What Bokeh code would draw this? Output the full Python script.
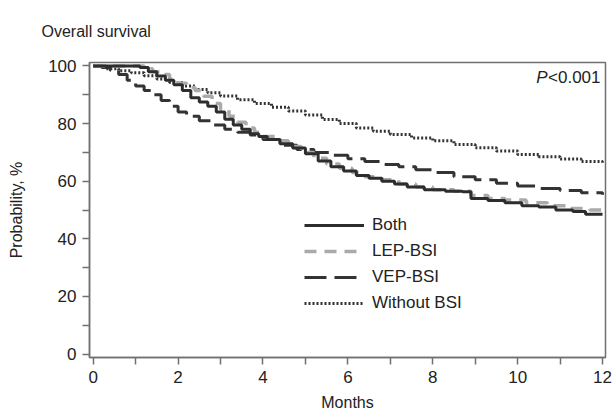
from bokeh.plotting import figure
from bokeh.models import Range1d, FixedTicker, Legend, LegendItem, Label
from bokeh.embed import file_html
from bokeh.resources import INLINE

# ---- data ----
both_t = [0, 1.1, 1.3, 1.5, 1.7, 1.9, 2.1, 2.3, 2.5, 2.7, 2.9, 3.1, 3.3, 3.5, 3.7, 3.9, 4.1, 4.4, 4.7,
          5.0, 5.3, 5.6, 5.9, 6.2, 6.5, 6.8, 7.1, 7.4, 7.8, 8.3, 8.7, 8.9, 9.3, 9.7, 10.1, 10.5, 10.9,
          11.3, 11.6, 12.0]
both_s = [100, 99.5, 98, 96.5, 95, 93.5, 91.5, 89, 87.5, 86, 84, 81.5, 79.5, 78, 76.5, 75.5, 74.5, 73,
          71.5, 69.5, 67, 65, 63.5, 62, 61, 60, 59, 58, 57, 56.5, 56.3, 54, 53.3, 52.5, 51.5, 51, 50,
          49.5, 48.5, 48.5]

lep_t = [0, 1.2, 1.4, 1.6, 1.8, 2.0, 2.2, 2.4, 2.6, 2.8, 3.0, 3.2, 3.4, 3.6, 3.8, 4.0, 4.3, 4.6, 4.9,
         5.2, 5.5, 5.8, 6.1, 6.4, 6.8, 7.2, 7.6, 8.0, 8.5, 8.9, 9.3, 9.7, 10.2, 10.7, 11.2, 11.7, 12.0]
lep_s = [100, 99, 98, 97, 95.5, 94, 92.5, 91.5, 89.5, 87, 85, 82.5, 80.5, 78.5, 77, 75.5, 74, 72, 70,
         68, 66, 64.5, 63, 61.5, 60.5, 59, 58, 57, 56.5, 55, 54, 53.5, 52.5, 51.5, 50.5, 50, 49.5]

vep_t = [0, 0.2, 0.4, 0.6, 0.8, 1.0, 1.2, 1.4, 1.6, 1.8, 2.0, 2.2, 2.5, 2.8, 3.1, 3.4, 3.7, 4.0, 4.4,
         4.8, 5.2, 5.6, 6.0, 6.4, 6.8, 7.2, 7.6, 8.0, 8.5, 9.0, 9.5, 10.0, 10.5, 11.0, 11.5, 12.0]
vep_s = [100, 99.5, 98.5, 97, 95, 93, 91.5, 90, 88, 86, 84, 82.5, 81, 79.5, 78, 77, 76, 74.5, 72.5,
         71, 70, 69, 67.8, 66.8, 65.8, 65, 64, 63, 61.5, 60.5, 59.3, 58.3, 57.5, 56.8, 56, 55.3]

wo_t = [0, 0.3, 0.6, 0.9, 1.2, 1.5, 1.8, 2.1, 2.4, 2.7, 3.0, 3.4, 3.8, 4.2, 4.6, 5.0, 5.4, 5.8, 6.2,
        6.6, 7.0, 7.5, 8.0, 8.5, 9.0, 9.5, 10.0, 10.5, 11.0, 11.5, 12.0]
wo_s = [100, 99, 98.3, 97.6, 96.6, 95.5, 94.3, 93, 91.8, 90.7, 89.6, 88.3, 87, 85.7, 84.4, 83, 81.4,
        80, 78.5, 77.3, 76.2, 75, 74, 72.7, 71.6, 70.5, 69.3, 68.5, 67.7, 66.8, 66]

x_ticks = [0, 2, 4, 6, 8, 10, 12]
x_minor = [1, 3, 5, 7, 9, 11]
y_ticks = [0, 20, 40, 60, 80, 100]
y_minor = [10, 30, 50, 70, 90]

FONT = "Liberation Sans"
TXT = "#222222"
AX = "#707070"
FS = "17px"

p = figure(width=614, height=415, output_backend="svg", toolbar_location=None,
           x_range=Range1d(-0.087, 12.07), y_range=Range1d(-1.2, 101.2),
           min_border_left=89, min_border_right=9, min_border_top=62, min_border_bottom=58)

p.title.text = "Overall survival"
p.title.align = "left"
p.title.vertical_align = "top"
p.title.offset = -48
p.title.standoff = 42
p.title.text_font = FONT
p.title.text_font_size = "16px"
p.title.text_font_style = "normal"
p.title.text_color = TXT

p.xgrid.visible = False
p.ygrid.visible = False
p.outline_line_color = AX
p.outline_line_width = 1.5
p.background_fill_color = "white"
p.border_fill_color = "white"

p.xaxis.ticker = FixedTicker(ticks=x_ticks, minor_ticks=x_minor)
p.yaxis.ticker = FixedTicker(ticks=y_ticks, minor_ticks=y_minor)
for ax in (p.xaxis[0], p.yaxis[0]):
    ax.axis_line_color = AX
    ax.axis_line_width = 1.5
    ax.major_tick_line_color = AX
    ax.minor_tick_line_color = AX
    ax.major_tick_line_width = 1.5
    ax.minor_tick_line_width = 1.5
    ax.major_tick_in = 0
    ax.minor_tick_in = 0
    ax.major_tick_out = 7
    ax.minor_tick_out = 7
    ax.major_label_text_font = FONT
    ax.major_label_text_font_size = FS
    ax.major_label_text_color = TXT
    ax.axis_label_text_font = FONT
    ax.axis_label_text_font_size = "16px"
    ax.axis_label_text_font_style = "normal"
    ax.axis_label_text_color = TXT
p.xaxis.axis_label = "Months"
p.yaxis.axis_label = "Probability, %"
p.xaxis.major_label_standoff = 6
p.yaxis.major_label_standoff = 6
p.xaxis.axis_label_standoff = 8
p.yaxis.axis_label_standoff = 20

r_wo = p.step(wo_t, wo_s, mode="after", line_color="#333333", line_width=3, line_dash="2 2")
r_vep = p.step(vep_t, vep_s, mode="after", line_color="#333333", line_width=3, line_dash="22 8")
r_lep = p.step(lep_t, lep_s, mode="after", line_color="#aaaaaa", line_width=3.5, line_dash="12 8")
r_both = p.step(both_t, both_s, mode="after", line_color="#2d2d2d", line_width=3)

legend = Legend(items=[
    LegendItem(label="Both", renderers=[r_both]),
    LegendItem(label="LEP-BSI", renderers=[r_lep]),
    LegendItem(label="VEP-BSI", renderers=[r_vep]),
    LegendItem(label="Without BSI", renderers=[r_wo]),
], location=(215, 44), orientation="vertical")
legend.glyph_width = 60
legend.glyph_height = 20
legend.spacing = 6
legend.padding = 0
legend.margin = 0
legend.label_standoff = 8
legend.label_text_font = FONT
legend.label_text_font_size = FS
legend.label_text_color = TXT
legend.border_line_color = None
legend.background_fill_alpha = 0
p.add_layout(legend, "center")

p.add_layout(Label(x=12.0, y=101.2, x_offset=-2, y_offset=-5, text="<0.001", text_align="right",
                   text_baseline="top", text_font=FONT, text_font_size=FS, text_color=TXT))
p.add_layout(Label(x=12.0, y=101.2, x_offset=-55, y_offset=-5, text="P", text_align="right",
                   text_baseline="top", text_font=FONT, text_font_size=FS,
                   text_font_style="italic", text_color=TXT))

open("out.html", "w").write(file_html(p, INLINE))
